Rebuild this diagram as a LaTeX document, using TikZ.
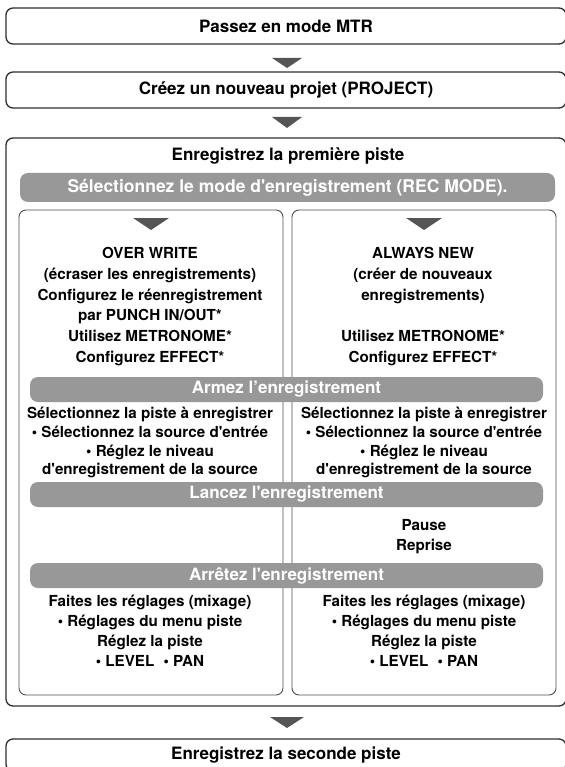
\documentclass[tikz,border=0pt]{standalone}
\usepackage{fontspec}
\newfontfamily\heros{TeX Gyre Heros}
\usetikzlibrary{positioning}
\definecolor{bargray}{HTML}{989898}
\definecolor{trigray}{HTML}{555555}
\definecolor{linegray}{HTML}{2E2E2E}
\tikzstyle{stepbox} = [draw=linegray, line width=1.3pt, rounded corners=7pt, inner sep=0pt]
\tikzstyle{colbox} = [draw=linegray!85, line width=0.9pt, rounded corners=7pt, inner sep=0pt]
\tikzstyle{bar} = [fill=bargray, rounded corners=8pt, inner sep=0pt, text=white]
\tikzstyle{head} = [font=\heros\bfseries\fontsize{17}{20}\selectfont]
\tikzstyle{body} = [font=\heros\bfseries\fontsize{15.2}{20.8}\selectfont, align=center, inner sep=0pt, anchor=north]

\begin{document}
\begin{tikzpicture}[x=1pt,y=-1pt]
    \useasboundingbox (0,0) rectangle (564,767);
    % main steps
    \node[stepbox, head, minimum width=560, minimum height=36] (mtr) at (286,26) {Passez en mode MTR};
    \node[stepbox, head, minimum width=560, minimum height=36] (proj) at (286,90) {Créez un nouveau projet (PROJECT)};
    \node[stepbox, minimum width=560, minimum height=568] (rec) at (286,422) {};
    \node[head] (rectitle) at (288,156) {Enregistrez la première piste};
    \node[stepbox, head, minimum width=560, minimum height=32] (next) at (286,755) {Enregistrez la seconde piste};
    % the two modes
    \node[colbox, minimum width=264, minimum height=485] (lcol) at (151,452.5) {};
    \node[colbox, minimum width=264, minimum height=485] (rcol) at (424,452.5) {};
    \node[bar, head, font=\heros\bfseries\fontsize{17.5}{20}\selectfont, minimum width=535, minimum height=29] (mode) at (287.5,187.5) {Sélectionnez le mode d'enregistrement (REC MODE).};
    \node[bar, head, minimum width=513, minimum height=25] (arm) at (286.5,389.5) {Armez l’enregistrement};
    \node[bar, head, minimum width=513, minimum height=25] (run) at (286.5,494.5) {Lancez l'enregistrement};
    \node[bar, head, minimum width=513, minimum height=25] (stop) at (286.5,575.5) {Arrêtez l'enregistrement};
    % arrow heads
    \foreach \cx/\cy/\w/\h in {287/58/30/10,287/117/30/11,151/218/36/12,424/218/36/12,287/717/34/11}
        \fill[trigray] (\cx-\w/2,\cy) -- (\cx+\w/2,\cy) -- (\cx,\cy+\h) -- cycle;
    % texts in the columns
    \node[body] (owtext) at (150,247) {OVER WRITE\\(écraser les enregistrements)\\Configurez le réenregistrement\\par PUNCH IN/OUT*\\Utilisez METRONOME*\\Configurez EFFECT*};
    \node[body] (antext) at (423,247) {ALWAYS NEW\\(créer de nouveaux\\enregistrements)\\[20.8pt]Utilisez METRONOME*\\Configurez EFFECT*};
    \node[body, font=\heros\bfseries\fontsize{15.2}{18.7}\selectfont] (lsel) at (150,407) {Sélectionnez la piste à enregistrer\\• Sélectionnez la source d'entrée\\• Réglez le niveau\\d'enregistrement de la source};
    \node[body, font=\heros\bfseries\fontsize{15.2}{18.7}\selectfont] (rsel) at (424,407) {Sélectionnez la piste à enregistrer\\• Sélectionnez la source d'entrée\\• Réglez le niveau\\d'enregistrement de la source};
    \node[body, font=\heros\bfseries\fontsize{15.2}{20}\selectfont] (pause) at (424,519) {Pause\\Reprise};
    \node[body, font=\heros\bfseries\fontsize{15.2}{20}\selectfont] (lmix) at (150,595) {Faites les réglages (mixage)\\• Réglages du menu piste\\Réglez la piste\\• LEVEL\hspace{0.6em}• PAN};
    \node[body, font=\heros\bfseries\fontsize{15.2}{20}\selectfont] (rmix) at (424,595) {Faites les réglages (mixage)\\• Réglages du menu piste\\Réglez la piste\\• LEVEL\hspace{0.6em}• PAN};
\end{tikzpicture}
\end{document}
